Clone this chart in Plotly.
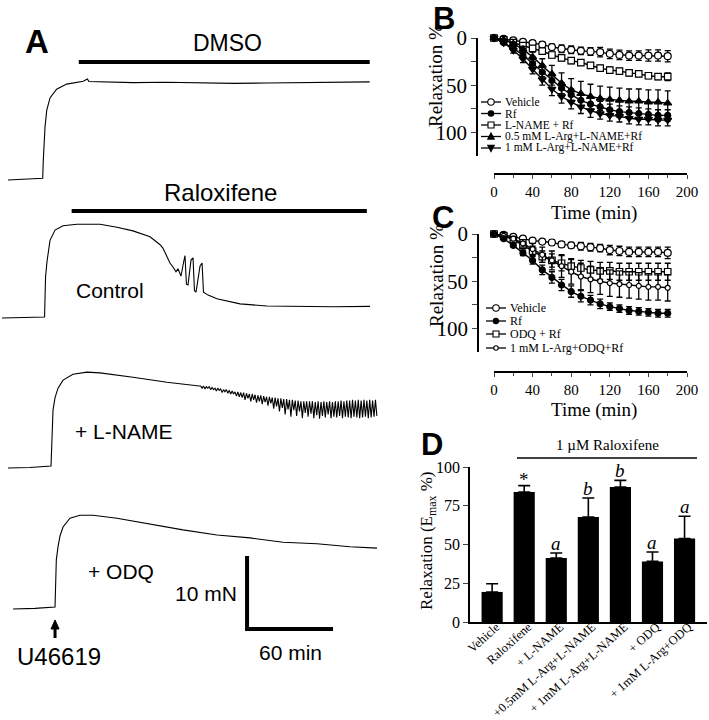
import numpy as np
import plotly.graph_objects as go

W, H = 709, 720
SANS = "Liberation Sans, Arial, sans-serif"
SERIF = "Liberation Serif, Times New Roman, serif"

# ---------------- Panel A: tension recordings (time in min, tension in mN) ----------------
DMSO_T = [5.6, 18, 29.8, 30.2, 30.8, 31.4, 32.6, 34.9, 39.5, 46.5, 58.1, 61.0, 62.0, 69.8,
          93, 116, 140, 163, 186, 209, 235, 258]
DMSO_MN = [-0.14, -0.05, 0.1, 2.5, 5.5, 7.1, 9.4, 11.1, 12.3, 13.0, 13.4, 13.7, 13.35, 13.3,
           13.2, 13.25, 13.15, 13.1, 13.15, 13.2, 13.25, 13.3]

CTRL_T = [1.4, 14.0, 31.1, 31.4, 31.8, 32.8, 34.9, 38.4, 44.0, 53.7, 69.8, 81.6, 92.8, 104.7,
          111.7, 113.7, 115.1, 118.6, 120.7, 122.8, 124.2, 126.3, 128.1, 129.1, 130.1, 131.2,
          133.3, 134.7, 135.7, 136.8, 139.6, 141.0, 142.0, 143.8, 145.2, 151.4, 167.5, 186.3,
          209.4, 232.4, 258.2]
CTRL_MN = [-0.14, -0.1, 0.0, 2.5, 5.5, 7.6, 10.5, 11.9, 12.5, 12.7, 12.7, 12.3, 11.8, 11.0,
           9.9, 9.45, 8.8, 7.4, 6.85, 6.2, 6.6, 5.6, 7.5, 8.4, 4.5, 4.4,
           7.8, 8.1, 3.6, 3.4, 7.0, 7.4, 3.4, 3.2, 3.0, 2.5, 1.8, 1.5,
           1.4, 1.4, 1.45]

LNAME_T = [5.6, 20.9, 35.6, 35.9, 36.3, 37.0, 38.4, 40.5, 44.0, 50.9, 60.7, 69.8, 92.8, 116.5, 139.0]
LNAME_MN = [-0.14, -0.07, 0.14, 2.3, 5.1, 7.8, 9.5, 10.8, 11.9, 12.7, 13.0, 12.9, 12.3, 11.6, 11.1]
LNAME_OSC_START = 140  # oscillating part, one reading per minute
LNAME_OSC_MN = [
    11.1, 10.8, 11.1, 10.7, 11.0, 10.8, 11.0, 10.6, 10.9, 10.6, 10.8, 10.4, 10.8, 10.5, 10.7, 10.2,
    10.6, 10.3, 10.6, 10.1, 10.5, 10.0, 10.4, 10.0, 10.3, 9.7,
    10.3, 9.6, 10.2, 9.5, 10.2, 9.2, 10.1, 9.4, 10.0, 9.0, 10.0, 9.2, 9.9, 8.8, 9.8, 9.0, 9.8, 8.6,
    9.7, 8.9, 9.6, 8.4, 9.6, 8.7, 9.5,
    8.0, 9.5, 8.3, 9.4, 7.6, 9.4, 8.1, 9.3, 7.2, 9.3, 7.9, 9.2, 6.9, 9.2, 7.8, 9.1, 7.0, 9.1, 7.6,
    9.0, 6.7, 9.0, 7.4, 9.0, 6.9,
    9.0, 7.3, 9.0, 6.7, 8.9, 7.1, 9.0, 6.6, 8.9, 7.0, 9.0, 6.8, 8.9, 7.2, 9.0, 6.7, 8.9, 6.9, 9.0,
    6.8, 9.0, 7.0, 9.1, 6.7, 9.0,
    6.9, 9.1, 6.8, 9.1, 6.7, 9.2, 6.9, 9.1, 6.8, 9.2, 6.7, 9.1, 6.8, 9.2, 6.9, 9.1, 6.7, 9.2, 6.8,
    9.1, 6.9, 9.2, 7.0]

ODQ_T = [9.1, 24.4, 38.4, 38.9, 39.3, 40.5, 41.9, 44.0, 48.8, 55.8, 64.9, 81.6, 104.7, 127.7,
         151.4, 174.5, 197.5, 221.2, 244.2, 263.1]
ODQ_MN = [-0.14, -0.05, 0.14, 3.5, 6.6, 8.4, 9.9, 11.1, 12.3, 12.7, 12.7, 12.3, 11.5, 10.7,
          10.0, 9.6, 9.0, 8.8, 8.4, 8.2]

DMSO_PERIOD = (55, 258)
RALOX_PERIOD = (50, 256)
U46619_T = 38.4
SCALE_MN = 10
SCALE_MIN = 60
SCALE_T0, SCALE_Y0 = 172.4, -2.88

# ---------------- Panels B and C: time course (Relaxation %) ----------------
TIME = [0, 10, 20, 30, 40, 50, 60, 70, 80, 90, 100, 110, 120, 130, 140, 150, 160, 170, 180]

B_VEH = [0, 1, 2.5, 4, 5.4, 7, 9.6, 11.4, 12.5, 13.6, 14.3, 15, 16.8, 17.9, 18.6, 18.6, 18.6, 18.6, 19.3]
B_VEH_ERR = [0, 1, 1.5, 2, 2, 3, 3, 4, 4, 4, 4, 5, 5, 5, 5, 5, 6, 6, 6]
B_RF = [0, 5, 11, 18, 27, 36, 45, 53, 60, 66, 70, 73, 76, 78, 79, 80, 81, 82, 82]
B_RF_ERR = [0, 1, 2, 3, 4, 5, 5, 6, 6, 6, 6, 6, 6, 6, 6, 6, 6, 6, 6]
B_LN = [0, 2, 5, 8, 11, 14, 18, 21, 24, 26, 29, 32, 34, 35, 37, 38, 40, 41, 41]
B_LN_ERR = [0, 1, 1, 2, 2, 2, 3, 3, 3, 3, 3, 3, 3, 3, 3, 3, 3, 3, 4]
B_ARG05 = [0, 2, 6, 12, 20, 29, 38, 48, 55, 59, 62, 64, 65, 66, 67, 67, 68, 68, 69]
B_ARG05_ERR = [0, 1, 2, 3, 5, 7, 9, 11, 12, 13, 13, 13, 13, 13, 13, 13, 13, 13, 13]
B_ARG1 = [0, 5, 13, 22, 33, 44, 54, 62, 68, 73, 77, 80, 82, 83, 85, 86, 86, 87, 87]
B_ARG1_ERR = [0, 1, 3, 4, 5, 6, 7, 7, 7, 7, 7, 6, 6, 6, 6, 6, 6, 6, 6]
B_NAMES = ["Vehicle", "Rf", "L-NAME + Rf", "0.5 mM L-Arg+L-NAME+Rf", "1 mM L-Arg+L-NAME+Rf"]

C_VEH = [0, 1, 3, 5, 7, 8, 9, 11, 12, 13, 14, 15, 17, 18, 19, 19, 19, 19, 20]
C_VEH_ERR = [0, 1, 1, 2, 2, 2, 3, 3, 3, 4, 4, 4, 5, 5, 5, 5, 5, 5, 6]
C_RF = [0, 5, 12, 20, 28, 38, 46, 54, 61, 66, 70, 74, 77, 79, 81, 82, 83, 84, 84]
C_RF_ERR = [0, 1, 2, 3, 4, 5, 6, 6, 6, 6, 5, 5, 4, 4, 4, 4, 4, 4, 4]
C_ODQ = [0, 2, 6, 12, 18, 24, 28, 31, 34, 36, 38, 39, 39, 40, 40, 40, 40, 40, 40]
C_ODQ_ERR = [0, 1, 2, 3, 5, 6, 7, 8, 8, 8, 9, 9, 9, 9, 9, 9, 9, 9, 9]
C_ARG = [0, 2, 5, 10, 16, 22, 28, 34, 40, 45, 48, 50, 52, 53, 54, 55, 56, 56, 57]
C_ARG_ERR = [0, 1, 2, 4, 6, 8, 10, 12, 13, 14, 14, 14, 14, 14, 14, 14, 14, 14, 14]
C_NAMES = ["Vehicle", "Rf", "ODQ + Rf", "1 mM L-Arg+ODQ+Rf"]

# ---------------- Panel D: Emax ----------------
D_LABELS = ["Vehicle", "Raloxifene", "+ L-NAME", "+0.5mM L-Arg+L-NAME",
            "+ 1mM L-Arg+L-NAME", "+ ODQ", "+ 1mM L-Arg+ODQ"]
D_MEAN = [19.4, 83.9, 41.3, 67.7, 87.1, 39.1, 53.8]
D_ERR = [5.3, 4.1, 3.2, 12.3, 4.3, 6.1, 14.4]
D_SIG = ["", "*", "a", "b", "b", "a", "a"]


def px(x):
    return x / W


def py(y):
    return 1 - y / H


fig = go.Figure()
shapes = []
annotations = []

# ---------- Panel A ----------
PX_PER_MIN = 1.433
PX_PER_MN = 7.3
A_BASE = {"y": 179, "y2": 317, "y3": 467, "y4": 608}
lname_t = LNAME_T + [LNAME_OSC_START + i for i in range(len(LNAME_OSC_MN))]
lname_mn = LNAME_MN + LNAME_OSC_MN
for t, mn, ya in [(DMSO_T, DMSO_MN, "y"), (CTRL_T, CTRL_MN, "y2"),
                  (lname_t, lname_mn, "y3"), (ODQ_T, ODQ_MN, "y4")]:
    fig.add_trace(go.Scatter(x=t, y=mn, mode="lines", xaxis="x", yaxis=ya,
                             line=dict(color="black", width=1.1), hoverinfo="skip"))
# scale bar
fig.add_trace(go.Scatter(x=[SCALE_T0, SCALE_T0, SCALE_T0 + SCALE_MIN],
                         y=[SCALE_Y0 + SCALE_MN, SCALE_Y0, SCALE_Y0],
                         mode="lines", xaxis="x", yaxis="y4",
                         line=dict(color="black", width=4), hoverinfo="skip"))

layout_axes = {}
layout_axes["xaxis"] = dict(domain=[0, px(420)], range=[0, 420 / PX_PER_MIN], visible=False,
                            anchor="y", fixedrange=True, automargin=False)
for key, base in A_BASE.items():
    name = "yaxis" if key == "y" else "yaxis" + key[1:]
    top, bot = base - 115, base + 35
    layout_axes[name] = dict(domain=[py(bot), py(top)],
                             range=[-(bot - base) / PX_PER_MN, (base - top) / PX_PER_MN],
                             visible=False, anchor="x", fixedrange=True, automargin=False)

for (t0, t1), yy in [(DMSO_PERIOD, 62), (RALOX_PERIOD, 211)]:
    shapes.append(dict(type="line", xref="x", yref="paper", x0=t0, x1=t1, y0=py(yy), y1=py(yy),
                       line=dict(color="black", width=4)))

# U46619 arrow (shaft + head)
shapes.append(dict(type="line", xref="x", yref="paper", x0=U46619_T, x1=U46619_T,
                   y0=py(638), y1=py(627), line=dict(color="black", width=3)))
hw = 4 / PX_PER_MIN
shapes.append(dict(type="path", xref="x", yref="paper",
                   path="M {:.3f},{:.5f} L {:.3f},{:.5f} L {:.3f},{:.5f} Z".format(
                       U46619_T - hw, py(629), U46619_T + hw, py(629), U46619_T, py(620)),
                   fillcolor="black", line=dict(color="black", width=1)))


def text(x, y, s, size, family=SANS, **kw):
    d = dict(x=px(x), y=py(y), xref="paper", yref="paper", text=s, showarrow=False,
             font=dict(size=size, family=family, color="black"),
             xanchor="center", yanchor="middle")
    d.update(kw)
    annotations.append(d)


text(37, 41, "<b>A</b>", 33)
text(227, 43, "DMSO", 23)
text(220, 193, "Raloxifene", 24)
text(110, 290, "Control", 21)
text(123, 431, "+ L-NAME", 21)
text(121, 571, "+ ODQ", 21)
text(239, 593, "10 mN", 21, xanchor="right")
text(290, 652, "60 min", 21)
text(59, 656, "U46619", 24)

# ---------- Panels B, C ----------
def line_series(xa, ya, y, err, symbol, fill, size):
    fig.add_trace(go.Scatter(
        x=TIME, y=y, xaxis=xa, yaxis=ya, mode="lines+markers", cliponaxis=False,
        line=dict(color="black", width=1.4),
        marker=dict(symbol=symbol, size=size, color=fill, line=dict(color="black", width=1.2)),
        error_y=dict(type="data", array=err, color="black", thickness=1.3, width=3),
        hoverinfo="skip"))


def time_axes(xname, yname, y0px, y1px, xaxis_px, yaxis_px):
    layout_axes[xname] = dict(
        domain=[px(494), px(687)], range=[0, 200], anchor="free", position=py(xaxis_px),
        tickvals=[0, 40, 80, 120, 160, 200], ticks="outside", ticklen=4, tickwidth=1.3,
        minor=dict(tickvals=[20, 60, 100, 140, 180], ticks="outside", ticklen=3, tickwidth=1.3),
        showline=True, linecolor="black", linewidth=1.5, showgrid=False, zeroline=False,
        tickfont=dict(family=SERIF, size=15, color="black"), fixedrange=True, automargin=False)
    layout_axes[yname] = dict(
        domain=[py(y1px), py(y0px)], range=[125, 0], anchor="free", position=px(yaxis_px),
        tickvals=[0, 50, 100], ticks="outside", ticklen=5, tickwidth=1.3,
        minor=dict(tickvals=[25, 75], ticks="outside", ticklen=5, tickwidth=1.3),
        showline=True, linecolor="black", linewidth=1.5, showgrid=False, zeroline=False,
        tickfont=dict(family=SERIF, size=21, color="black"), fixedrange=True, automargin=False)


time_axes("xaxis2", "yaxis5", 38, 156, 174, 477)
time_axes("xaxis3", "yaxis6", 234, 352, 372, 478)

line_series("x2", "y5", B_VEH, B_VEH_ERR, "circle", "white", 7)
line_series("x2", "y5", B_LN, B_LN_ERR, "square", "white", 6.5)
line_series("x2", "y5", B_ARG05, B_ARG05_ERR, "triangle-up", "black", 7)
line_series("x2", "y5", B_RF, B_RF_ERR, "circle", "black", 6)
line_series("x2", "y5", B_ARG1, B_ARG1_ERR, "triangle-down", "black", 7)

line_series("x3", "y6", C_VEH, C_VEH_ERR, "circle", "white", 7)
line_series("x3", "y6", C_ODQ, C_ODQ_ERR, "square", "white", 6.5)
line_series("x3", "y6", C_ARG, C_ARG_ERR, "circle", "white", 5)
line_series("x3", "y6", C_RF, C_RF_ERR, "circle", "black", 6)

text(444, 18, "<b>B</b>", 31)
text(443, 217, "<b>C</b>", 31)
text(594, 213, "Time (min)", 19, SERIF)
text(594, 410, "Time (min)", 19, SERIF)
text(436, 76, "Relaxation %", 19, SERIF, textangle=-90)
text(436, 276, "Relaxation %", 19, SERIF, textangle=-90)


def legend_item(x0, x1, y, kind, fill, label, size, fsize):
    shapes.append(dict(type="line", xref="paper", yref="paper", x0=px(x0), x1=px(x1),
                       y0=py(y), y1=py(y), line=dict(color="black", width=1.3)))
    xc = (x0 + x1) / 2
    st = dict(xref="paper", yref="paper", fillcolor=fill, line=dict(color="black", width=1.1))
    r = size / 2
    if kind == "circle":
        shapes.append(dict(type="circle", x0=px(xc - r), x1=px(xc + r), y0=py(y + r), y1=py(y - r), **st))
    elif kind == "square":
        shapes.append(dict(type="rect", x0=px(xc - r), x1=px(xc + r), y0=py(y + r), y1=py(y - r), **st))
    else:
        s = -1 if kind == "up" else 1
        path = "M {:.5f},{:.5f} L {:.5f},{:.5f} L {:.5f},{:.5f} Z".format(
            px(xc - r), py(y - s * r * 0.8), px(xc + r), py(y - s * r * 0.8), px(xc), py(y + s * r * 1.1))
        shapes.append(dict(type="path", path=path, **st))
    text(x1 + 2, y, label, fsize, SERIF, xanchor="left")


B_LEG = [("circle", "white", 6.5), ("circle", "black", 5.5), ("square", "white", 6),
         ("up", "black", 6.5), ("down", "black", 6.5)]
for i, (nm, (k, f, s)) in enumerate(zip(B_NAMES, B_LEG)):
    legend_item(481, 501, [102, 113.5, 125, 136.5, 148][i], k, f, nm, s, 11.5)
C_LEG = [("circle", "white", 6.5), ("circle", "black", 5.5), ("square", "white", 6),
         ("circle", "white", 4.5)]
for i, (nm, (k, f, s)) in enumerate(zip(C_NAMES, C_LEG)):
    legend_item(486, 506, [308, 321, 334, 348][i], k, f, nm, s, 12)

# ---------- Panel D ----------
fig.add_trace(go.Bar(
    x=D_LABELS, y=D_MEAN, xaxis="x4", yaxis="y7", width=0.66,
    marker=dict(color="black", line=dict(width=0)),
    error_y=dict(type="data", symmetric=False, array=D_ERR, arrayminus=[0] * len(D_ERR),
                 color="black", thickness=1.6, width=6),
    hoverinfo="skip"))
layout_axes["xaxis4"] = dict(
    domain=[px(470), px(707)], range=[-0.69, 6.7], anchor="y7", type="category",
    showline=True, linecolor="black", linewidth=1.6, ticks="", tickangle=-42,
    ticklabelstandoff=-9, ticklabelshift=4,
    tickfont=dict(family=SERIF, size=12.5, color="black"), showgrid=False, fixedrange=True,
    automargin=False)
layout_axes["yaxis7"] = dict(
    domain=[py(622), py(467)], range=[0, 100], anchor="x4",
    tickvals=[0, 25, 50, 75, 100], ticks="outside", ticklen=5, tickwidth=1.4,
    showline=True, linecolor="black", linewidth=1.6, showgrid=False, zeroline=False,
    tickfont=dict(family=SERIF, size=16, color="black"), fixedrange=True, automargin=False)

for lab, m, e, s in zip(D_LABELS, D_MEAN, D_ERR, D_SIG):
    if s:
        annotations.append(dict(x=lab, y=m + e, xref="x4", yref="y7",
                                text=s if s == "*" else "<i>" + s + "</i>",
                                showarrow=False, yanchor="bottom", yshift=-3 if s != "*" else -6,
                                font=dict(family=SERIF, size=19, color="black")))
shapes.append(dict(type="line", xref="paper", yref="paper", x0=px(517), x1=px(697),
                   y0=py(458), y1=py(458), line=dict(color="black", width=1.5)))
text(607, 445, "1 \u00b5M Raloxifene", 15, SERIF)
text(432, 444, "<b>D</b>", 31)
text(428, 540, "Relaxation (E<sub>max</sub> %)", 17, SERIF, textangle=-90)

fig.update_layout(
    template="none",
    width=W, height=H, margin=dict(l=0, r=0, t=0, b=0, autoexpand=False),
    paper_bgcolor="white", plot_bgcolor="rgba(0,0,0,0)", showlegend=False,
    shapes=shapes, annotations=annotations, **layout_axes)

fig.write_html("out.html", config={"displayModeBar": False},
               post_script="document.body.style.margin='0';document.body.style.overflow='hidden';")
